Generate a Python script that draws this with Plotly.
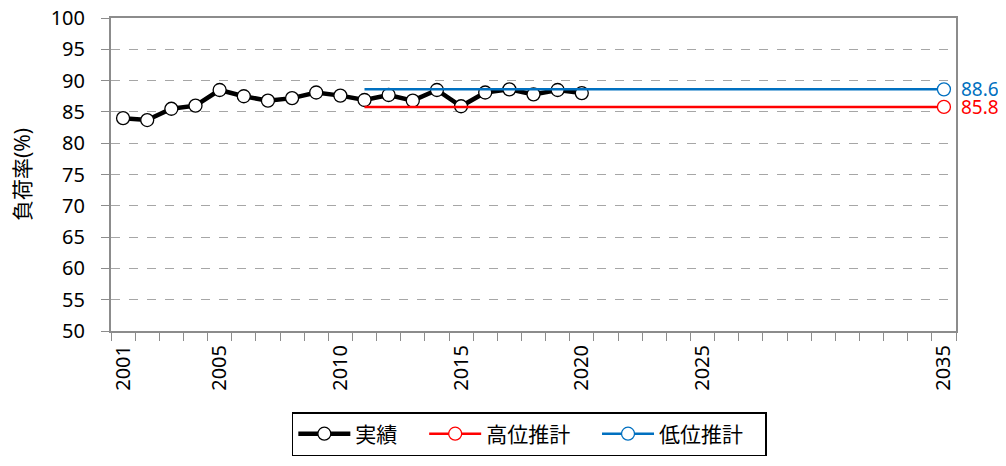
import plotly.graph_objects as go

years = list(range(2001, 2021))
actual = [84.0, 83.7, 85.5, 86.0, 88.5, 87.5, 86.8, 87.2, 88.1, 87.6,
          86.9, 87.7, 86.8, 88.5, 85.9, 88.1, 88.6, 87.8, 88.5, 88.0]

proj_years = [2011, 2035]
high_proj = [85.8, 85.8]
low_proj = [88.6, 88.6]

tick_years = [2001, 2005, 2010, 2015, 2020, 2025, 2035]

font_family = "Noto Sans, Noto Sans CJK JP, sans-serif"
blue = "#0070C0"
red = "#FF0000"
axis_grey = "#8c8c8c"
pad = "\u00a0" * 4  # extra room between legend entries

fig = go.Figure()
fig.add_trace(go.Scatter(
    x=years, y=actual, name="実績" + pad, mode="lines+markers",
    line=dict(color="black", width=4.5),
    marker=dict(symbol="circle", size=13, color="white", line=dict(color="black", width=1.3)),
))
fig.add_trace(go.Scatter(
    x=proj_years, y=high_proj, name="高位推計" + pad, mode="lines+markers",
    line=dict(color=red, width=2.5),
    marker=dict(symbol="circle", size=13, color="white", line=dict(color=red, width=1.3)),
    selectedpoints=[1], unselected=dict(marker=dict(opacity=0)),
))
fig.add_trace(go.Scatter(
    x=proj_years, y=low_proj, name="低位推計" + "\u00a0" * 3, mode="lines+markers",
    line=dict(color=blue, width=2.5),
    marker=dict(symbol="circle", size=13, color="white", line=dict(color=blue, width=1.3)),
    selectedpoints=[1], unselected=dict(marker=dict(opacity=0)),
))

# end labels for projections
fig.add_annotation(x=proj_years[-1], y=low_proj[-1], text=f"{low_proj[-1]:.1f}",
                   xanchor="left", showarrow=False, xshift=15,
                   font=dict(color=blue, size=19, family=font_family))
fig.add_annotation(x=proj_years[-1], y=high_proj[-1], text=f"{high_proj[-1]:.1f}",
                   xanchor="left", showarrow=False, xshift=15,
                   font=dict(color=red, size=19, family=font_family))

# page body has an 8px margin, so the figure is a bit smaller and shifted
fig.update_layout(
    width=998, height=458,
    margin=dict(l=103, r=50, t=10, b=128),
    plot_bgcolor="white", paper_bgcolor="white",
    font=dict(family=font_family, size=20, color="black"),
    legend=dict(orientation="h", x=0.214, xanchor="left", y=-0.259, yanchor="top",
                bordercolor="black", borderwidth=1.5, font=dict(size=21),
                itemwidth=52, tracegroupgap=0),
)
fig.update_xaxes(
    range=[2000.5, 2035.5], tickmode="array", tickvals=tick_years,
    ticktext=[str(y) for y in tick_years], tickangle=-90, automargin=False,
    showgrid=False, zeroline=False, ticks="", ticklen=0, ticklabelstandoff=4,
    showline=True, linecolor=axis_grey, linewidth=2, mirror=True,
    minor=dict(tickmode="linear", tick0=2000.5, dtick=1, ticks="outside",
               ticklen=8, tickcolor=axis_grey, tickwidth=1.3, showgrid=False),
)
fig.update_yaxes(
    range=[50, 100], dtick=5, automargin=False, ticklabeloverflow="allow",
    title=dict(text="負荷率(%)", standoff=22, font=dict(size=21)),
    showgrid=True, gridcolor="#a6a6a6", griddash="dash", gridwidth=1,
    zeroline=False, ticks="outside", ticklen=8, tickcolor=axis_grey, ticklabelstandoff=12,
    showline=True, linecolor=axis_grey, linewidth=2, mirror=True,
)

fig.write_html("out.html")
